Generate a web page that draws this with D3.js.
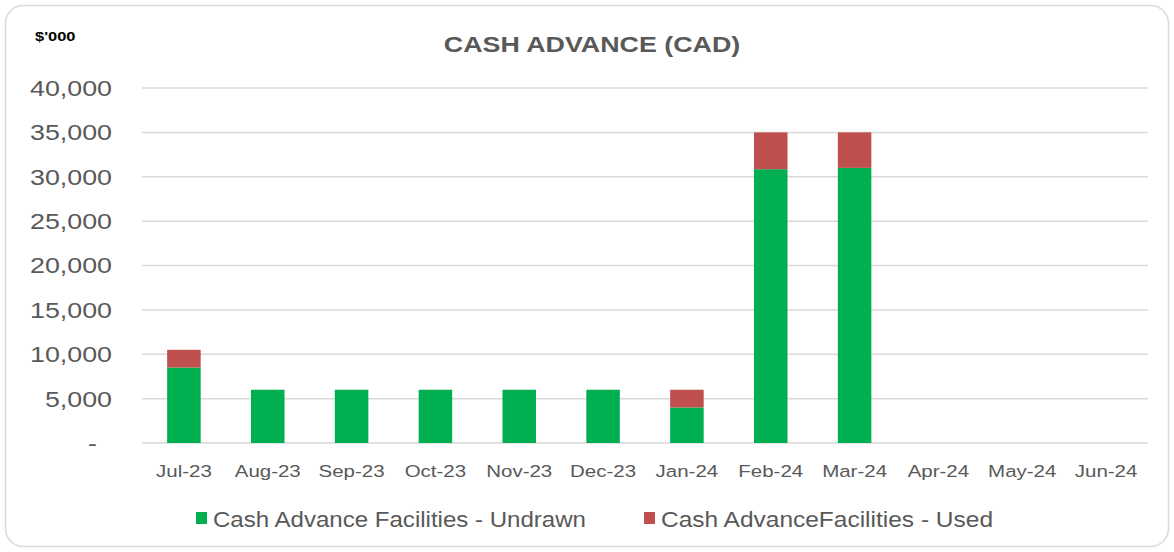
<!DOCTYPE html>
<html>
<head>
<meta charset="utf-8">
<script src="https://cdn.jsdelivr.net/npm/d3@7"></script>
<style>
  body { margin: 0; background: #fff; }
  svg { display: block; font-family: "Liberation Sans", Arial, sans-serif; }
</style>
</head>
<body>
<div id="chart"></div>
<script>
var months = ["Jul-23", "Aug-23", "Sep-23", "Oct-23", "Nov-23", "Dec-23",
  "Jan-24", "Feb-24", "Mar-24", "Apr-24", "May-24", "Jun-24"];
var undrawn = [8500, 6000, 6000, 6000, 6000, 6000, 4000, 30850, 31000, 0, 0, 0];
var used = [2000, 0, 0, 0, 0, 0, 2000, 4150, 4000, 0, 0, 0];
var yTicks = [0, 5000, 10000, 15000, 20000, 25000, 30000, 35000, 40000];

var seriesNames = ["Cash Advance Facilities - Undrawn", "Cash AdvanceFacilities  - Used"];
var colors = ["#00B050", "#C0504D"];

var W = 1174, H = 552;
var margin = {top: 88, right: 26, bottom: 109, left: 142},
  width = W - margin.left - margin.right,
  height = H - margin.top - margin.bottom;

// the text in the reference is a bit wider than Arial
var sx = 1.22;
function placed(px, py) { return "translate(" + px + "," + py + ") scale(" + sx + ",1)"; }

var svg = d3.select("#chart").append("svg")
  .attr("width", W)
  .attr("height", H);

// Chart frame
svg.append("rect")
  .attr("x", 5.5).attr("y", 5.5)
  .attr("width", W - 11).attr("height", H - 11)
  .attr("rx", 18)
  .attr("fill", "#fff")
  .attr("stroke", "#d9d9d9")
  .attr("stroke-width", 1.5);

svg.append("text")
  .attr("transform", placed(592, 52))
  .attr("text-anchor", "middle")
  .attr("font-size", 22).attr("font-weight", "bold")
  .attr("fill", "#595959")
  .text("CASH ADVANCE (CAD)");

svg.append("text")
  .attr("transform", placed(35, 41))
  .attr("font-size", 13.5).attr("font-weight", "bold")
  .attr("fill", "#000")
  .text("$'000");

var x = d3.scaleBand().domain(months).range([0, width]).paddingInner(0.6).paddingOuter(0.3);
var y = d3.scaleLinear().domain([0, 40000]).range([height, 0]);

var g = svg.append("g").attr("transform", "translate(" + margin.left + "," + margin.top + ")");

// Gridlines
g.append("g").selectAll("line")
  .data(yTicks).enter().append("line")
    .attr("x1", 0).attr("x2", width)
    .attr("y1", d => y(d)).attr("y2", d => y(d))
    .attr("stroke", "#d9d9d9")
    .attr("stroke-width", 1.5);

// Y axis labels
var fmt = d3.format(",d");
g.append("g").selectAll("text")
  .data(yTicks).enter().append("text")
    .attr("transform", d => placed(d === 0 ? -45 : -30, y(d)))
    .attr("dy", "0.36em")
    .attr("text-anchor", "end")
    .attr("font-size", 22)
    .attr("fill", "#595959")
    .text(d => d === 0 ? "-" : fmt(d));

// Stacked bars
var rows = months.map((m, i) => ({month: m, undrawn: undrawn[i], used: used[i]}));
var stack = d3.stack().keys(["undrawn", "used"])(rows);

g.append("g").selectAll("g")
  .data(stack).enter().append("g")
    .attr("fill", (d, i) => colors[i])
  .selectAll("rect")
  .data(d => d.filter(p => p[1] > p[0])).enter().append("rect")
    .attr("x", d => x(d.data.month))
    .attr("width", x.bandwidth())
    .attr("y", d => y(d[1]))
    .attr("height", d => y(d[0]) - y(d[1]));

// X axis labels
g.append("g").selectAll("text")
  .data(months).enter().append("text")
    .attr("transform", d => placed(x(d) + x.bandwidth() / 2, height + 34))
    .attr("text-anchor", "middle")
    .attr("font-size", 16.8)
    .attr("fill", "#595959")
    .text(d => d);

// Legend
var legendX = [196, 644];
var legend = svg.append("g").selectAll("g")
  .data(seriesNames).enter().append("g")
    .attr("transform", (d, i) => "translate(" + legendX[i] + ",519)");
legend.append("rect")
  .attr("x", 0).attr("y", -7)
  .attr("width", 11).attr("height", 12)
  .attr("fill", (d, i) => colors[i]);
legend.append("text")
  .attr("x", 17).attr("y", 0)
  .attr("dy", "0.36em")
  .attr("font-size", 21.5)
  .attr("fill", "#595959")
  .attr("textLength", (d, i) => i === 0 ? 373 : 332)
  .attr("lengthAdjust", "spacingAndGlyphs")
  .text(d => d);
</script>
</body>
</html>
